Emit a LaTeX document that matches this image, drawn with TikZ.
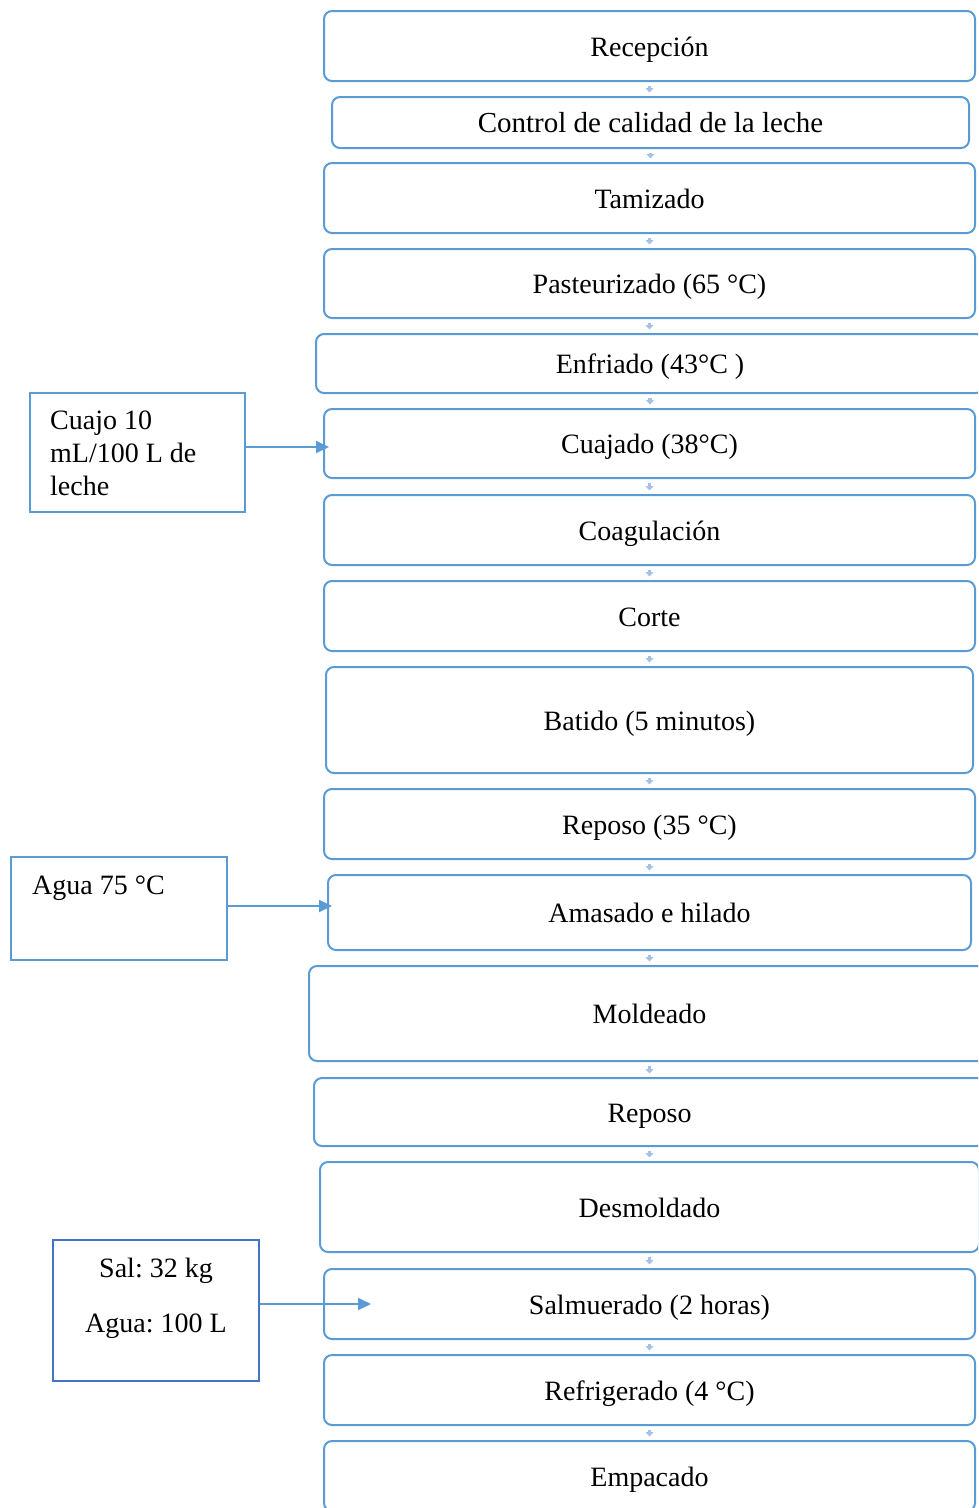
\documentclass[tikz,border=0pt]{standalone}
\usepackage{fontspec}
\setmainfont{Liberation Serif}
\usetikzlibrary{arrows.meta}
\definecolor{boxblue}{HTML}{5B9BD5}
\definecolor{saltblue}{HTML}{4472C4}
\definecolor{paleblue}{HTML}{A4C2E6}
\frenchspacing
\begin{document}
\begin{tikzpicture}[x=1pt,y=-1pt,
  txt/.style={font=\fontsize{28}{33}\selectfont},
  stepbox/.style={draw=boxblue, line width=2pt, rounded corners=8pt, inner sep=0pt, txt,
    text height=21pt, text depth=1pt},
  inbox/.style={draw=boxblue, line width=2pt, inner sep=0pt, txt},
  flow/.style={draw=paleblue, line width=3.5pt, shorten <=3.5pt, shorten >=3.5pt,
    -{Triangle[length=4.5pt,width=8pt]}},
  feed/.style={draw=boxblue, line width=2pt, -{Triangle[length=13pt,width=12pt]}}]
\useasboundingbox (0,0) rectangle (978,1508);
\clip (0,0) rectangle (978,1508);

% process steps
\node[stepbox, minimum width=651, minimum height=70] (rec)  at (649.5,46)    {Recepción};
\node[stepbox, minimum width=637, minimum height=51] (ctl)  at (650.5,122.5) {\fontsize{29}{33}\selectfont Control de calidad de la leche};
\node[stepbox, minimum width=651, minimum height=70] (tam)  at (649.5,198)   {Tamizado};
\node[stepbox, minimum width=651, minimum height=69] (pas)  at (649.5,283.5) {Pasteurizado (65 °C)};
\node[stepbox, minimum width=668, minimum height=59] (enf)  at (650,363.5)   {Enfriado (43°C )};
\node[stepbox, minimum width=651, minimum height=69] (cua)  at (649.5,443.5) {Cuajado (38°C)};
\node[stepbox, minimum width=651, minimum height=70] (coa)  at (649.5,530)   {Coagulación};
\node[stepbox, minimum width=651, minimum height=70] (cor)  at (649.5,616)   {Corte};
\node[stepbox, minimum width=647, minimum height=106] (bat) at (649.5,720)   {Batido (5 minutos)};
\node[stepbox, minimum width=651, minimum height=70] (rpa)  at (649.5,824)   {Reposo (35 °C)};
\node[stepbox, minimum width=643, minimum height=75] (ama)  at (649.5,912.5) {Amasado e hilado};
\node[stepbox, minimum width=681, minimum height=95] (mol)  at (649.5,1013.5) {Moldeado};
\node[stepbox, minimum width=671, minimum height=68] (rpb)  at (649.5,1112)  {Reposo};
\node[stepbox, minimum width=659, minimum height=90] (des)  at (649.5,1207)  {Desmoldado};
\node[stepbox, minimum width=651, minimum height=70] (sal)  at (649.5,1304)  {Salmuerado (2 horas)};
\node[stepbox, minimum width=651, minimum height=70] (ref)  at (649.5,1390)  {Refrigerado (4 °C)};
\node[stepbox, minimum width=651, minimum height=70] (emp)  at (649.5,1476)  {Empacado};

% links between consecutive steps
\foreach \a/\b in {rec/ctl, ctl/tam, tam/pas, pas/enf, enf/cua, cua/coa, coa/cor,
                   cor/bat, bat/rpa, rpa/ama, ama/mol, mol/rpb, rpb/des, des/sal,
                   sal/ref, ref/emp}
  \draw[flow] (\a.south) -- (\a.south |- \b.north);

% inputs
\node[inbox, minimum width=215, minimum height=119,
  label={[anchor=north west, inner sep=0pt, xshift=21pt, yshift=-19pt, align=left, txt]north west:Cuajo 10\\mL/100 L de\\leche}]
  (cuajo) at (137.5,452.5) {};
\node[inbox, minimum width=216, minimum height=103,
  label={[anchor=north west, inner sep=0pt, xshift=22pt, yshift=-19.5pt, txt]north west:Agua 75 °C}]
  (agua) at (119,908.5) {};
\node[inbox, draw=saltblue, minimum width=206, minimum height=141,
  label={[anchor=north, inner sep=0pt, yshift=-19pt, align=center, txt]north:Sal: 32 kg\\[22pt]Agua: 100 L}]
  (salm) at (156,1310.5) {};

\draw[feed] ([yshift=5.5pt]cuajo.east) -- ([xshift=6pt]cuajo.east |- 0,447 -| cua.west);
\draw[feed] ([yshift=2.5pt]agua.east) -- ([xshift=5pt]agua.east |- 0,906 -| ama.west);
\draw[feed] ([yshift=6.5pt]salm.east) -- ([xshift=48pt]sal.west);
\end{tikzpicture}
\end{document}
